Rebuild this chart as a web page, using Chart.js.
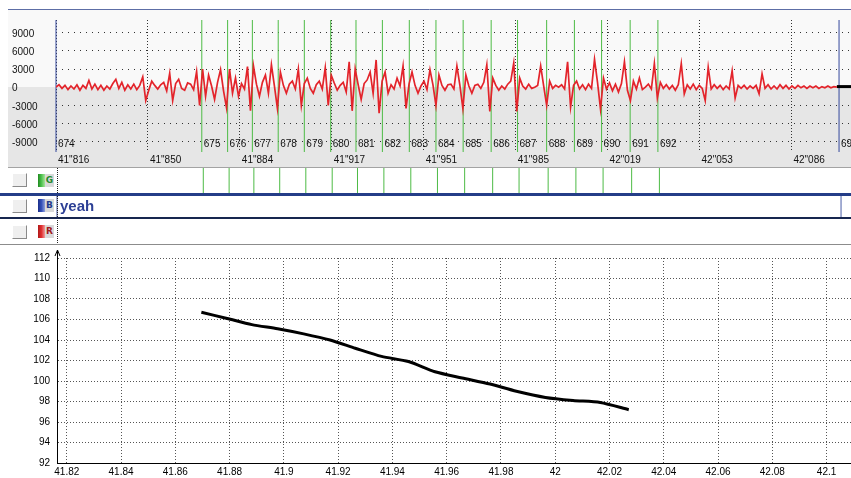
<!DOCTYPE html>
<html>
<head>
<meta charset="utf-8">
<script src="https://cdn.jsdelivr.net/npm/chart.js@4/dist/chart.umd.min.js"></script>
<style>
    html, body { margin: 0; padding: 0; background: #fff; }
    body { width: 851px; height: 478px; position: relative; overflow: hidden; font-family: "Liberation Sans", Arial, sans-serif; }
    canvas { position: absolute; left: 0; }
    #signal-chart { top: 0; }
    #rate-chart { top: 245px; }
    .sep { position: absolute; left: 0; width: 851px; }
    .cursor { position: absolute; left: 57px; top: 168px; height: 77px; border-left: 1px dotted #222; }
    .btn { position: absolute; left: 12px; width: 13px; height: 12px; background: #efefef;
           border-top: 1px solid #fff; border-left: 1px solid #fff; border-right: 1px solid #8a8a8a; border-bottom: 1px solid #8a8a8a; }
    .tag { position: absolute; left: 38px; width: 16px; height: 13px; }
    .tag .bar { position: absolute; left: 0; top: 0; width: 7px; height: 13px; }
    .tag .letter { position: absolute; left: 7px; top: 0; width: 9px; height: 13px; background: #d9d9d9;
                   font: bold 9px "DejaVu Sans", sans-serif; line-height: 13px; text-align: center; }
</style>
</head>
<body>
<canvas id="signal-chart" width="851" height="245"></canvas>
<canvas id="rate-chart" width="851" height="233"></canvas>

<div class="cursor"></div>
<div class="sep" style="top:193px;height:3px;background:#243d88;"></div>
<div class="sep" style="top:217px;height:2px;background:#17264f;"></div>
<div class="sep" style="top:244px;height:1px;background:#8c8c8c;"></div>

<div class="btn" style="top:173px;"></div>
<div class="btn" style="top:199px;"></div>
<div class="btn" style="top:225px;"></div>
<div class="tag" style="top:174px;"><div class="bar" style="background:linear-gradient(to right,#1f8a1f,#4fc24f,#a6e29a);"></div><div class="letter" style="color:#1f8a2a;">G</div></div>
<div class="tag" style="top:199px;"><div class="bar" style="background:linear-gradient(to right,#1a2f8a,#3550b8,#8fa0dc);"></div><div class="letter" style="color:#233a8c;">B</div></div>
<div class="tag" style="top:225px;"><div class="bar" style="background:linear-gradient(to right,#b01818,#e03030,#f19a9a);"></div><div class="letter" style="color:#a01c1c;">R</div></div>

<script>
/* signal strip (top) */
const signalStart = 41.816;
const signalStep = 0.0011;
const signalValues = [
    0, 400, -200, 300, -400, 200, -300, 400, -500, 300,
    -200, 1100, -300, 500, -400, 300, -500, 200, -300, 600,
    1300, -200, 800, -500, 400, -300, 500, -400, 300, 1700,
    -2200, -500, 1000, 300, -300, 400, 800, -600, 2300, -2200,
    600, 1300, -200, -500, 700, 500, -400, 2600, -3000, 3000,
    -1500, 2000, 200, -2000, 800, 2900, -600, -3400, 3000, -1000,
    1500, -1500, 600, -300, 3400, -3900, 3500, 500, -1500, 800,
    2000, -1000, 3700, 200, -3500, 2500, 300, -1000, 500, 1000,
    -300, 3000, -3000, 600, 1500, -200, -1000, 400, 1000, -300,
    3200, -3000, 2000, 700, -500, 300, 800, -800, 4200, -3900,
    3000, 400, -2000, 600, 1200, 2500, -1000, 4500, -4300, 1000,
    2500, -1000, 400, -300, 1500, 200, 3500, -3500, 500, 2500,
    300, -1000, 200, 1000, -400, 2900, 400, -3000, 2000, 300,
    -500, 400, 500, -300, 3500, 300, -3500, 2000, 200, -1000,
    300, 500, -200, 800, 3700, -4000, 1500, 300, -500, 200,
    -300, 500, 1000, 4000, -4000, 1500, 200, -300, 500, -200,
    0, 300, 3500, 200, -3000, 1000, -200, 300, 0, 400,
    -300, 4200, -3300, 300, 1000, -300, 400, -400, 500, -200,
    4600, 800, -3600, 1500, -300, 700, -600, 500, -800, 600,
    4200, -500, -2200, 1000, -300, 1500, -400, 0, 500, -300,
    3900, -1800, 800, -200, 400, -300, 300, -500, 400, 3900,
    -1100, 400, -300, 500, -400, 300, -200, -2200, 3300, -300,
    400, -200, 300, -400, 200, -300, 2700, -1800, 300, -200,
    300, -300, 200, -200, 300, -1100, 2200, -200, 400, -300,
    200, -300, 400, -200, 300, -300, 200, -200, 300, -100,
    200, -200, 200, -100, 200, -200, 100, -100, 200, -100,
    100, 0
];
const tailTimes = [42.1031, 42.1083];
const tailValues = [100, 100];

const ampTicks = [-9000, -6000, -3000, 0, 3000, 6000, 9000];
const timeTickValues = [41.816, 41.8498, 41.8836, 41.9174, 41.9512, 41.985, 42.0188, 42.0526, 42.0864];
const timeTickLabels = ['41"816', '41"850', '41"884', '41"917', '41"951', '41"985', '42"019', '42"053', '42"086'];

// beat markers
const markerIds = [674, 675, 676, 677, 678, 679, 680, 681, 682, 683, 684, 685, 686, 687, 688, 689, 690, 691, 692, 693];
const markerTimes = [41.8160, 41.8696, 41.8791, 41.8882, 41.8977, 41.9073, 41.9170, 41.9263, 41.9360, 41.9459,
                     41.9557, 41.9657, 41.9760, 41.9857, 41.9964, 42.0066, 42.0166, 42.0271, 42.0373, 42.1039];
const markerKinds = ['B', 'G', 'G', 'G', 'G', 'G', 'G', 'G', 'G', 'G', 'G', 'G', 'G', 'G', 'G', 'G', 'G', 'G', 'G', 'B'];

const noteText = 'yeah';
const noteFrom = 41.816;
const noteTo = 42.1039;

/* heart rate (bottom), one value per beat 675..691 */
const rateValues = [106.7, 106.1, 105.5, 105.1, 104.6, 104.0, 103.2, 102.4, 101.9, 100.9, 100.3, 99.7, 99.0, 98.4, 98.1, 97.9, 97.2];
const rateTicks = [92, 94, 96, 98, 100, 102, 104, 106, 108, 110, 112];
const timeAxisTicks = [41.82, 41.84, 41.86, 41.88, 41.9, 41.92, 41.94, 41.96, 41.98, 42, 42.02, 42.04, 42.06, 42.08, 42.1];

Chart.defaults.font.family = '"Liberation Sans", Arial, sans-serif';
Chart.defaults.font.size = 10;
Chart.defaults.color = '#111';

const stripPlugin = {
    id: 'strip',
    beforeDraw(chart) {
        const { ctx, scales: { x, y } } = chart;
        const zero = Math.round(y.getPixelForValue(0));
        const bottom = x.bottom;
        ctx.save();
        ctx.fillStyle = '#f9f9f9';
        ctx.fillRect(8, 9, chart.width - 8, zero - 9);
        ctx.fillStyle = '#e6e6e6';
        ctx.fillRect(8, zero, chart.width - 8, bottom - zero);
        ctx.lineWidth = 1;
        ctx.strokeStyle = '#5d6ea6';
        ctx.beginPath(); ctx.moveTo(8, 9.5); ctx.lineTo(chart.width, 9.5); ctx.stroke();
        ctx.strokeStyle = '#a3a3a3';
        ctx.beginPath(); ctx.moveTo(8, bottom - 0.5); ctx.lineTo(chart.width, bottom - 0.5); ctx.stroke();
        ctx.restore();
    },
    beforeDatasetsDraw(chart) {
        const { ctx, chartArea: a, scales: { x } } = chart;
        ctx.save();
        ctx.lineWidth = 1;
        markerTimes.forEach((t, i) => {
            const px = x.getPixelForValue(t);
            ctx.strokeStyle = markerKinds[i] === 'G' ? '#4dbb45' : '#34489c';
            ctx.beginPath(); ctx.moveTo(px, a.top); ctx.lineTo(px, a.bottom); ctx.stroke();
        });
        ctx.restore();
    },
    afterDraw(chart) {
        const { ctx, chartArea: a, scales: { x } } = chart;
        const rowTop = x.bottom;
        ctx.save();
        ctx.font = '10px "Liberation Sans", Arial, sans-serif';
        ctx.fillStyle = '#111';
        ctx.textBaseline = 'middle';
        ctx.textAlign = 'left';
        markerTimes.forEach((t, i) => {
            const px = x.getPixelForValue(t);
            ctx.fillText(String(markerIds[i]), px + 2, a.bottom - 8);
            if (markerKinds[i] === 'G') {
                ctx.strokeStyle = '#4dbb45';
                ctx.beginPath(); ctx.moveTo(px + 1.5, rowTop); ctx.lineTo(px + 1.5, rowTop + 25); ctx.stroke();
            }
        });
        // annotation in the B row
        const x0 = x.getPixelForValue(noteFrom) + 1;
        const x1 = x.getPixelForValue(noteTo) + 2;
        ctx.strokeStyle = '#4a5ca8';
        ctx.beginPath();
        ctx.moveTo(x0, rowTop + 28); ctx.lineTo(x0, rowTop + 49);
        ctx.moveTo(x1, rowTop + 28); ctx.lineTo(x1, rowTop + 49);
        ctx.stroke();
        ctx.font = 'bold 15px "Liberation Sans", Arial, sans-serif';
        ctx.fillStyle = '#2c3f95';
        ctx.textBaseline = 'alphabetic';
        ctx.fillText(noteText, x0 + 3, rowTop + 43);
        ctx.restore();
    }
};

new Chart(document.getElementById('signal-chart'), {
    type: 'line',
    data: {
        datasets: [{
            data: signalValues.map((v, i) => ({ x: signalStart + i * signalStep, y: v })),
            borderColor: '#e3242b',
            borderWidth: 1.7,
            pointRadius: 0,
            tension: 0
        }, {
            data: tailTimes.map((t, i) => ({ x: t, y: tailValues[i] })),
            borderColor: '#000',
            borderWidth: 3,
            pointRadius: 0
        }]
    },
    options: {
        responsive: false,
        animation: false,
        devicePixelRatio: 1,
        layout: { padding: { top: 20, left: 12, right: 0, bottom: 77 } },
        plugins: { legend: { display: false }, tooltip: { enabled: false } },
        scales: {
            x: {
                type: 'linear',
                min: 41.816,
                max: 42.1083,
                afterBuildTicks: s => { s.ticks = timeTickValues.map(v => ({ value: v })); },
                afterFit: s => { s.height = 16; },
                ticks: { autoSkip: false, maxRotation: 0, minRotation: 0, align: 'start', labelOffset: 2, padding: 2,
                         callback: (v, i) => timeTickLabels[i] },
                grid: { color: '#333', drawTicks: false },
                border: { display: false, dash: [1, 2] }
            },
            y: {
                min: -10700,
                max: 11095,
                afterBuildTicks: s => { s.ticks = ampTicks.map(v => ({ value: v })); },
                afterFit: s => { s.width = 44; },
                ticks: { crossAlign: 'far', padding: 0, labelOffset: 1.5, callback: v => String(v) },
                grid: { color: c => (c.tick && c.tick.value === 0) ? 'rgba(0,0,0,0)' : '#333', drawTicks: false },
                border: { display: false, dash: [1, 5] }
            }
        }
    },
    plugins: [stripPlugin]
});

const arrowPlugin = {
    id: 'arrow',
    afterDraw(chart) {
        const { ctx, chartArea: a } = chart;
        const x = Math.round(a.left) + 0.5;
        ctx.save();
        ctx.strokeStyle = '#000';
        ctx.lineWidth = 1;
        ctx.beginPath();
        ctx.moveTo(x, a.top); ctx.lineTo(x, a.top - 8);
        ctx.moveTo(x - 2.5, a.top - 2); ctx.lineTo(x, a.top - 8); ctx.lineTo(x + 2.5, a.top - 2);
        ctx.stroke();
        ctx.restore();
    }
};

new Chart(document.getElementById('rate-chart'), {
    type: 'line',
    data: {
        datasets: [{
            data: rateValues.map((v, i) => ({ x: markerTimes[i + 1], y: v })),
            borderColor: '#000',
            borderWidth: 3,
            pointRadius: 0,
            tension: 0.25
        }]
    },
    options: {
        responsive: false,
        animation: false,
        devicePixelRatio: 1,
        layout: { padding: { top: 12, left: 0, right: 0, bottom: 0 } },
        plugins: { legend: { display: false }, tooltip: { enabled: false } },
        scales: {
            x: {
                type: 'linear',
                min: 41.8164,
                max: 42.109,
                afterBuildTicks: s => { s.ticks = timeAxisTicks.map(v => ({ value: v })); },
                afterFit: s => { s.height = 15; },
                ticks: { autoSkip: false, maxRotation: 0, minRotation: 0, padding: 3, color: '#000',
                         callback: (v, i) => String(timeAxisTicks[i]) },
                grid: { color: '#555', drawTicks: false },
                border: { color: '#000', width: 1, dash: [1, 2] }
            },
            y: {
                min: 92,
                max: 112,
                afterBuildTicks: s => { s.ticks = rateTicks.map(v => ({ value: v })); },
                afterFit: s => { s.width = 57; },
                ticks: { padding: 7, color: '#000', callback: v => String(v) },
                grid: { color: '#555', drawTicks: false },
                border: { color: '#000', width: 1, dash: [1, 2] }
            }
        }
    },
    plugins: [arrowPlugin]
});
</script>
</body>
</html>
